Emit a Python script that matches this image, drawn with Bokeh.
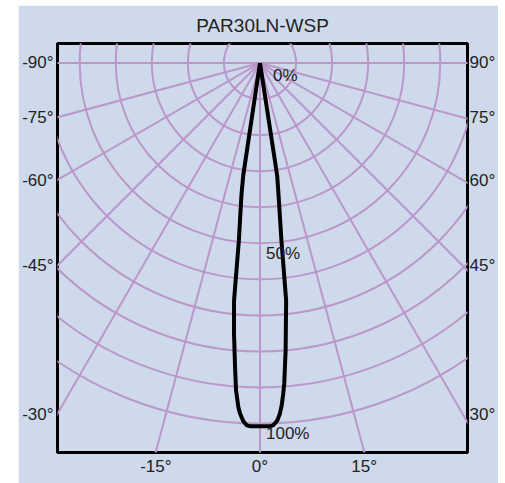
import math
from bokeh.plotting import figure
from bokeh.models import Range1d, LinearAxis, FixedTicker
from bokeh.core.properties import value
from bokeh.embed import file_html
from bokeh.resources import INLINE

# ---- data ---------------------------------------------------------------
chart_title = "PAR30LN-WSP"
# relative luminous intensity (%) against beam angle (deg)
left_angles = [-9.0, -8.5, -8.0, -6.8, -6.25, -5.5, -4.7, -4.2, -3.6, -3.27,
               -2.67, -2.1, -1.6, 0.0]
left_intensity = [0, 31.5, 37, 49.5, 66.1, 75.2, 84.4, 90.8, 95.4, 97.1,
                  99.2, 100.3, 100.5, 100.5]
right_angles = [0.0, 1.6, 2.1, 2.77, 3.27, 3.63, 4.03, 4.34, 5.11, 6.3,
                6.9, 8.0, 8.7, 9.0]
right_intensity = [100.5, 100.5, 100.3, 99.0, 97.1, 94.9, 91.7, 88.9, 79.8, 66.1,
                   49.5, 37, 31.5, 0]

grid_radii = [10, 20, 30, 40, 50, 60, 70, 80, 90, 100]
grid_angles = [-90, -75, -60, -45, -30, -15, 0, 15, 30, 45, 60, 75, 90]
percent_radii = [0, 50, 100]
percent_text = ["0%", "50%", "100%"]

# ---- styling --------------------------------------------------------------
BG = "#CED9EC"
GRID = "#BB97CA"
TXT = "#222222"
FONT = "Liberation Sans"

X0, X1 = -56.15, 57.54
Y0, Y1 = -107.75, 5.39

p = figure(width=480, height=480,
           x_range=Range1d(X0, X1), y_range=Range1d(Y0, Y1),
           output_backend="svg", toolbar_location=None,
           x_axis_location=None, y_axis_location=None,
           min_border_left=39, min_border_right=30,
           min_border_top=38, min_border_bottom=33,
           background_fill_color=BG, border_fill_color=BG,
           outline_line_color="black", outline_line_width=3,
           title=chart_title)
p.margin = (5, 0, 0, 18)
for g in p.grid:
    g.visible = False

p.title.text_font = FONT
p.title.text_font_size = "19px"
p.title.text_font_style = "normal"
p.title.text_color = TXT
p.title.align = "center"
p.title.standoff = 15

# grid circles and radial lines
p.circle(x=[0] * len(grid_radii), y=[0] * len(grid_radii), radius=grid_radii,
         fill_color=None, line_color=GRID, line_width=2)
p.ray(x=[0] * len(grid_angles), y=[0] * len(grid_angles), length=0,
      angle=[a - 90 for a in grid_angles], angle_units="deg",
      line_color=GRID, line_width=2)

# beam curve (polar -> cartesian, 0 deg pointing down)
angles = left_angles + right_angles[1:]
inten = left_intensity + right_intensity[1:]
xs = [r * math.sin(math.radians(a)) for a, r in zip(angles, inten)]
ys = [-r * math.cos(math.radians(a)) for a, r in zip(angles, inten)]
p.line(xs, ys, line_color="black", line_width=4, line_join="round")

# percent labels
p.text(x=[0] * len(percent_radii), y=[-r for r in percent_radii], text=percent_text,
       x_offset=[13, 6, 6], y_offset=[3, 0, 0], text_baseline="top",
       text_font=value(FONT), text_font_size=value("17px"), text_color=TXT)

# angle labels: the original places side labels symmetrically about the origin
label_half_width = abs(X0)
left_t, right_t, bottom_t = {}, {}, {}
for a in grid_angles:
    dx, dy = math.sin(math.radians(a)), -math.cos(math.radians(a))
    hits = []
    if dx < -1e-9:
        hits.append((label_half_width / -dx, "left"))
    if dx > 1e-9:
        hits.append((label_half_width / dx, "right"))
    if dy < -1e-9:
        hits.append((Y0 / dy, "bottom"))
    t, side = min(hits)
    lbl = f"{a}°"
    if side == "left":
        left_t[round(t * dy, 4)] = lbl
    elif side == "right":
        right_t[round(t * dy, 4)] = lbl
    else:
        bottom_t[round(t * dx, 4)] = lbl

def make_axis(ticks, standoff):
    ax = LinearAxis(ticker=FixedTicker(ticks=list(ticks.keys())),
                    major_label_overrides=ticks)
    ax.axis_line_color = None
    ax.major_tick_line_color = None
    ax.minor_tick_line_color = None
    ax.major_tick_in = 0
    ax.major_tick_out = 0
    ax.major_label_standoff = standoff
    ax.major_label_text_font = FONT
    ax.major_label_text_font_size = "17px"
    ax.major_label_text_color = TXT
    return ax

p.add_layout(make_axis(left_t, 4), "left")
p.add_layout(make_axis(right_t, 2), "right")
p.add_layout(make_axis(bottom_t, 4), "below")

open("out.html", "w").write(file_html(p, INLINE))
